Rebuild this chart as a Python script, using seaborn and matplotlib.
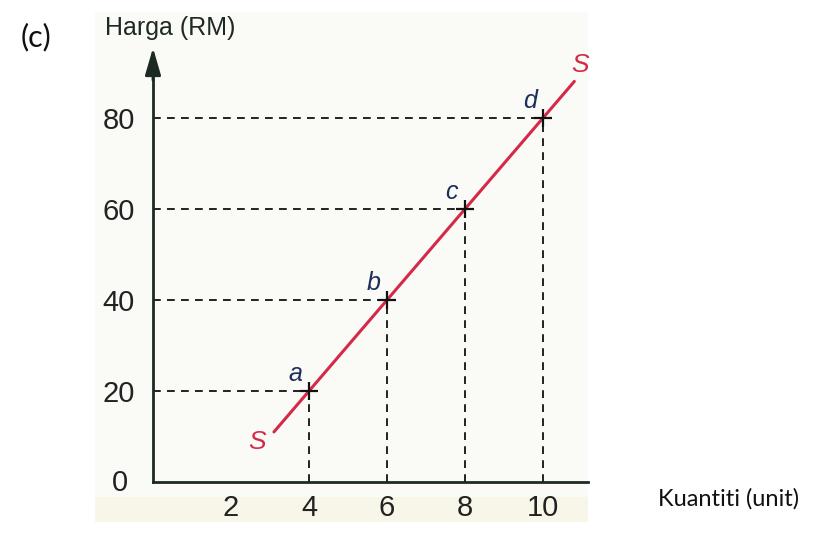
import numpy as np
import matplotlib
matplotlib.use("Agg")
import matplotlib.pyplot as plt
import seaborn as sns
from matplotlib.patches import Rectangle

# Data
quantity = [4, 6, 8, 10]
price = [20, 40, 60, 80]
point_labels = ["a", "b", "c", "d"]
supply_x = [3.1, 10.8]
supply_y = [11, 88]
x_ticks = [2, 4, 6, 8, 10]
y_ticks = [20, 40, 60, 80]

sns.set_style("white")
plt.rcParams["font.family"] = ["Liberation Sans Narrow", "Liberation Sans", "DejaVu Sans"]

ink = "#1d2a24"
red = "#d42a48"
navy = "#1c2f5c"

fig = plt.figure(figsize=(8.22, 5.35), dpi=100)

# scanned page background
fig.patches.append(Rectangle((95 / 822, 1 - 522 / 535), 493 / 822, 510 / 535,
                             transform=fig.transFigure, facecolor="#fafaf6",
                             edgecolor="none", zorder=-2))
fig.patches.append(Rectangle((95 / 822, 1 - 522 / 535), 493 / 822, 25 / 535,
                             transform=fig.transFigure, facecolor="#f8f6e8",
                             edgecolor="none", zorder=-1))

ax = fig.add_axes([153 / 822, 53 / 535, 435 / 822, 432 / 535])
ax.set_facecolor("none")

# dashed guide lines
for qx, py in zip(quantity, price):
    ax.plot([0, qx], [py, py], color="#222222", lw=1.4, ls=(0, (4, 3.2)))
    ax.plot([qx, qx], [0, py], color="#222222", lw=1.4, ls=(0, (4, 3.2)))

# supply curve
sns.lineplot(x=supply_x, y=supply_y, ax=ax, color=red, lw=2.2)
sns.scatterplot(x=quantity, y=price, ax=ax, marker="+", s=180,
                color="#111111", linewidth=1.6, zorder=5)

for qx, py, lab in zip(quantity, price, point_labels):
    ax.annotate(lab, (qx, py), xytext=(-9.5, 12), textcoords="offset points",
                ha="center", va="center", fontsize=18, style="italic",
                color=navy, family=["Liberation Sans", "DejaVu Sans"])

ax.text(2.67, 8.8, "S", fontsize=19, style="italic", color=red,
        ha="center", va="center", family=["Liberation Sans", "DejaVu Sans"])
ax.text(10.95, 91.6, "S", fontsize=19, style="italic", color=red,
        ha="center", va="center", family=["Liberation Sans", "DejaVu Sans"],
        clip_on=False)

ax.set_xlim(0, 11.15)
ax.set_ylim(0, 94.9)
ax.set_xticks(x_ticks)
ax.set_yticks(y_ticks)
ax.tick_params(length=0, labelsize=21, labelcolor="#222222")
ax.tick_params(axis="x", pad=9)
ax.tick_params(axis="y", pad=13)

for side in ["top", "right"]:
    ax.spines[side].set_visible(False)
for side in ["left", "bottom"]:
    ax.spines[side].set_color(ink)
    ax.spines[side].set_linewidth(2)
ax.spines["left"].set_bounds(0, 90)

# arrow head on price axis
ax.annotate("", xy=(0, 1.005), xytext=(0, 0.93), xycoords="axes fraction",
            arrowprops=dict(arrowstyle="-|>,head_length=0.55,head_width=0.16",
                            color=ink, lw=2, mutation_scale=30,
                            shrinkA=0, shrinkB=0))

ax.text(-0.075, -0.002, "0", transform=ax.transAxes, fontsize=21,
        color="#222222", ha="center", va="center")

fig.text(105 / 822, 1 - 28 / 535, "Harga (RM)", fontsize=18, color=ink,
         ha="left", va="center", family=["Liberation Sans", "DejaVu Sans"])
fig.text(21 / 822, 1 - 37 / 535, "(c)", fontsize=22, color="#111111",
         ha="left", va="center", family=["Lato", "DejaVu Sans"])
fig.text(658 / 822, 1 - 499 / 535, "Kuantiti (unit)", fontsize=17,
         color="#111111", ha="left", va="center", family=["Lato", "DejaVu Sans"])

fig.savefig("out.png", dpi=100)
